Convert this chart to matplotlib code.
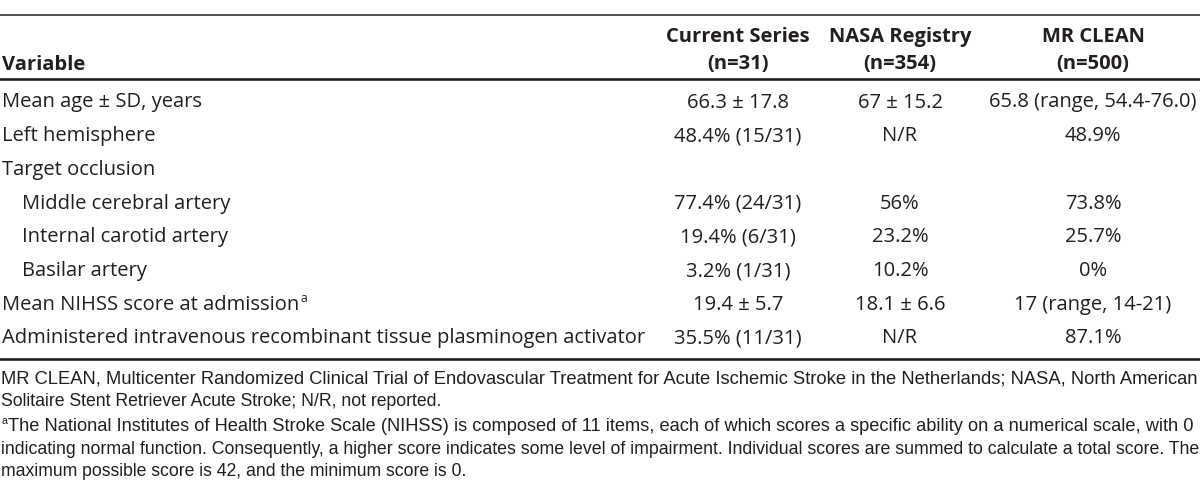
import matplotlib
matplotlib.use("Agg")
import matplotlib.pyplot as plt

# table content
col_heads = [["Current Series", "(n=31)"], ["NASA Registry", "(n=354)"], ["MR CLEAN", "(n=500)"]]
variables = [
    "Mean age \u00b1 SD, years",
    "Left hemisphere",
    "Target occlusion",
    "Middle cerebral artery",
    "Internal carotid artery",
    "Basilar artery",
    "Mean NIHSS score at admission",
    "Administered intravenous recombinant tissue plasminogen activator",
]
indented = [False, False, False, True, True, True, False, False]
superscript = ["", "", "", "", "", "", "a", ""]
current = ["66.3 \u00b1 17.8", "48.4% (15/31)", "", "77.4% (24/31)", "19.4% (6/31)",
           "3.2% (1/31)", "19.4 \u00b1 5.7", "35.5% (11/31)"]
nasa = ["67 \u00b1 15.2", "N/R", "", "56%", "23.2%", "10.2%", "18.1 \u00b1 6.6", "N/R"]
mrclean = ["65.8 (range, 54.4-76.0)", "48.9%", "", "73.8%", "25.7%", "0%",
           "17 (range, 14-21)", "87.1%"]
notes = [
    ["MR CLEAN, Multicenter Randomized Clinical Trial of Endovascular Treatment for Acute Ischemic Stroke in the Netherlands; NASA, North American",
     "Solitaire Stent Retriever Acute Stroke; N/R, not reported."],
    ["The National Institutes of Health Stroke Scale (NIHSS) is composed of 11 items, each of which scores a specific ability on a numerical scale, with 0",
     "indicating normal function. Consequently, a higher score indicates some level of impairment. Individual scores are summed to calculate a total score. The",
     "maximum possible score is 42, and the minimum score is 0."],
]
note_marks = ["", "a"]

W, H = 1200, 489
ink = "#231f20"
body_font = "Open Sans"
note_font = "Liberation Sans"
fs = 14.5
nfs = 12.7

fig = plt.figure(figsize=(W / 100, H / 100), dpi=100)
ax = fig.add_axes([0, 0, 1, 1])
ax.set_xlim(0, W)
ax.set_ylim(H, 0)
ax.axis("off")

col_x = [738, 900, 1093]

# rules
ax.plot([0, W], [15.5, 15.5], color=ink, lw=1.1)
ax.plot([0, W], [80, 80], color=ink, lw=1.9)
ax.plot([0, W], [359.5, 359.5], color=ink, lw=1.9)

# header
ax.text(2, 69.5, "Variable", fontsize=fs, family=body_font, weight="bold",
        color=ink, va="baseline", ha="left")
for x, (h1, h2) in zip(col_x, col_heads):
    ax.text(x, 42, h1, fontsize=fs, family=body_font, weight="bold",
            color=ink, va="baseline", ha="center")
    ax.text(x, 68.5, h2, fontsize=fs, family=body_font, weight="bold",
            color=ink, va="baseline", ha="center")

fig.canvas.draw()
renderer = fig.canvas.get_renderer()

row0, pitch = 107.5, 33.7
for i, var in enumerate(variables):
    y = row0 + i * pitch
    x0 = 22 if indented[i] else 2
    t = ax.text(x0, y, var, fontsize=fs, family=body_font, color=ink,
                va="baseline", ha="left")
    if superscript[i]:
        bb = t.get_window_extent(renderer)
        ax.text(bb.x1 + 1, y - 8, superscript[i], fontsize=fs * 0.6,
                family=body_font, color=ink, va="baseline", ha="left")
    for x, vals in zip(col_x, [current, nasa, mrclean]):
        if vals[i]:
            ax.text(x, y, vals[i], fontsize=fs, family=body_font, color=ink,
                    va="baseline", ha="center")

# footnotes: the justified lines are fitted to the full width
right = 1196
y = 383.5
for mark, lines in zip(note_marks, notes):
    for j, line in enumerate(lines):
        x0 = 1
        if mark and j == 0:
            m = ax.text(x0, y - 7, mark, fontsize=nfs * 0.6, family=note_font,
                        color=ink, va="baseline", ha="left")
            x0 = m.get_window_extent(renderer).x1 + 0.5
        t = ax.text(x0, y, line, fontsize=nfs, family=note_font, color=ink,
                    va="baseline", ha="left")
        if j < len(lines) - 1:
            w = t.get_window_extent(renderer).width
            t.set_fontsize(nfs * (right - x0) / w)
        y += 22.5
    y += 2.5

fig.savefig("out.png", dpi=100)
